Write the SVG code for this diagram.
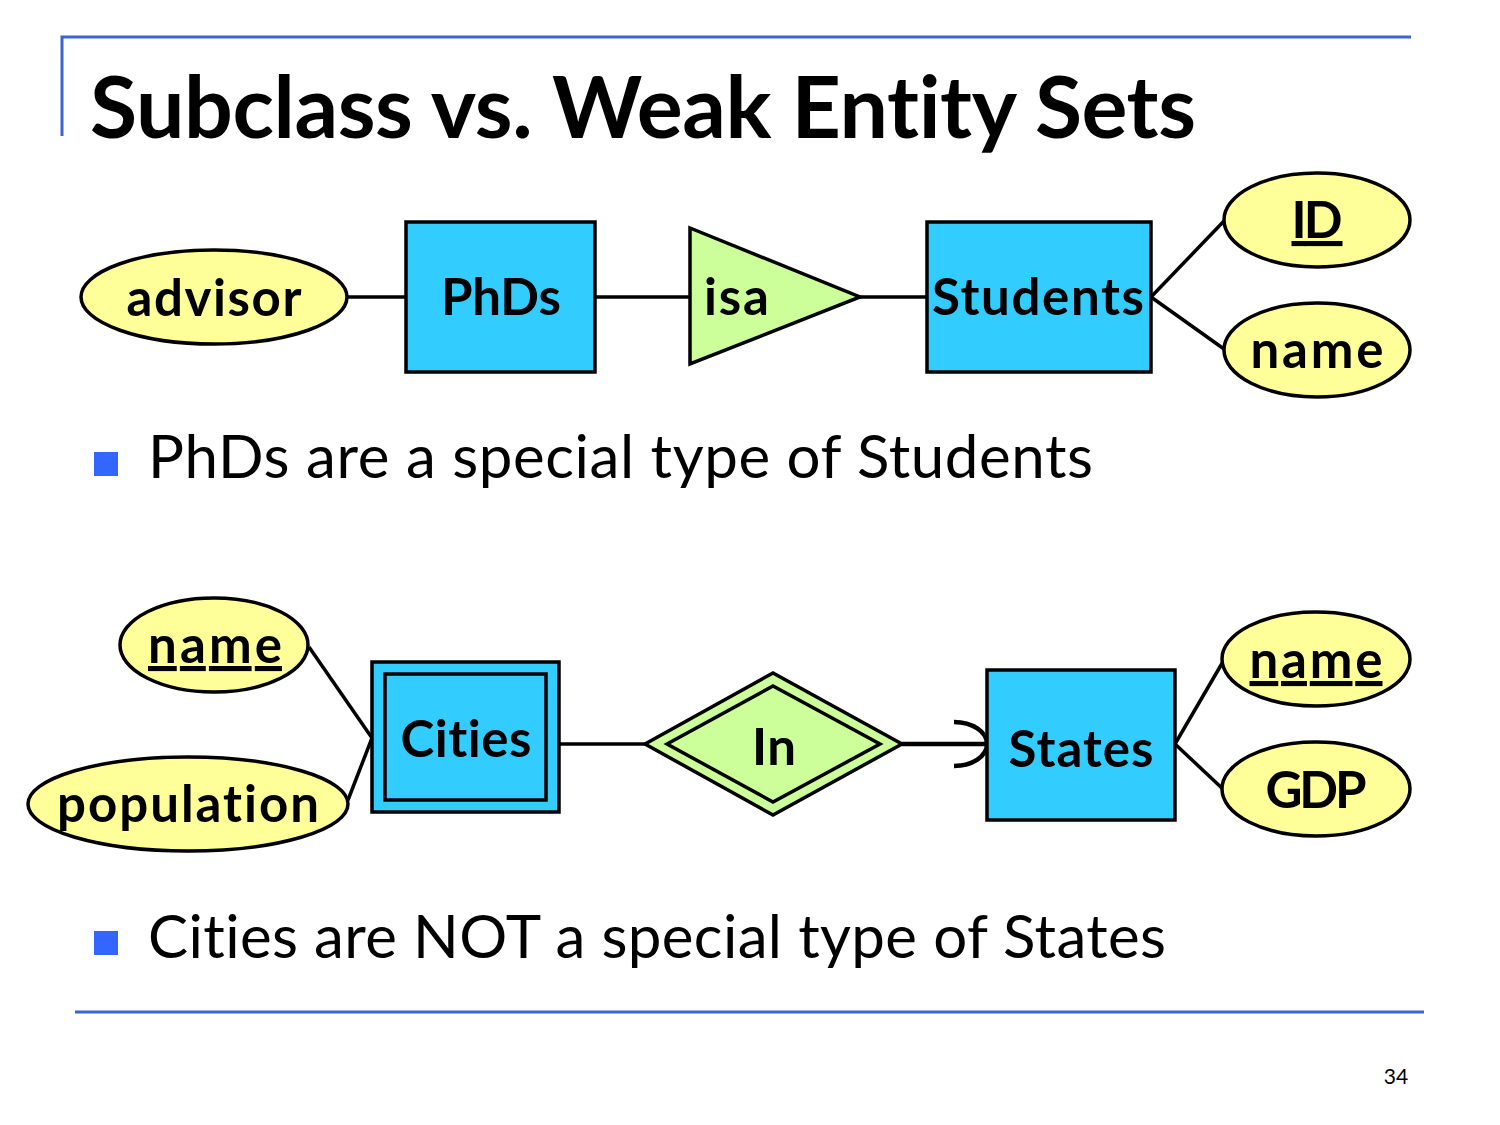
<svg xmlns="http://www.w3.org/2000/svg" width="1500" height="1125" viewBox="0 0 1500 1125">
<style>
text{font-variant-ligatures:none;font-feature-settings:"liga" 0}
.ent{fill:#33ccff;stroke:#000;stroke-width:3.5}
.att{fill:#ffff99;stroke:#000;stroke-width:3.5}
.rel{fill:#ccff99;stroke:#000;stroke-width:3.5}
.lbl{font-family:Lato,"Open Sans",sans-serif;font-weight:bold;font-size:51px;fill:#000}
.key{text-decoration:underline}
.conn line,.conn path{stroke:#000;stroke-width:3.5;fill:none}
.body{font-family:Lato,"Open Sans",sans-serif;font-size:60px;fill:#000}
.rule{stroke:#3c64d2;stroke-width:3;fill:none}
</style>
<rect width="1500" height="1125" fill="#fff"/>
<g id="frame">
<path class="rule" d="M62 136 V37 H1411"/>
<line class="rule" x1="75" y1="1012" x2="1424" y2="1012"/>
</g>
<text id="title" x="90" y="138" font-family="Lato,'Open Sans',sans-serif" font-weight="bold" font-size="86" textLength="1106">Subclass vs. Weak Entity Sets</text>
<g class="conn" id="connectors">
<line x1="347" y1="297" x2="406" y2="297"/>
<line x1="595" y1="297" x2="690" y2="297"/>
<line x1="860" y1="297" x2="927" y2="297"/>
<line x1="1151" y1="297" x2="1224" y2="221"/>
<line x1="1151" y1="297" x2="1224" y2="349"/>
<line x1="309" y1="647" x2="372" y2="738"/>
<line x1="348" y1="800" x2="372" y2="738"/>
<line x1="559" y1="744" x2="645" y2="744"/>
<line x1="902" y1="744" x2="987" y2="744" style="stroke-width:4.5"/>
<path d="M954 722 A33 22 0 0 1 954 766" style="stroke-width:4.5"/>
<line x1="1175" y1="744" x2="1224" y2="660"/>
<line x1="1175" y1="744" x2="1224" y2="790"/>
</g>
<g id="advisor"><ellipse class="att" cx="214" cy="297" rx="133" ry="47"/><text class="lbl" x="214" y="316" text-anchor="middle" textLength="175">advisor</text></g>
<g id="PhDs"><rect class="ent" x="406" y="222" width="189" height="150"/><text class="lbl" x="501" y="315" text-anchor="middle" textLength="120">PhDs</text></g>
<g id="isa"><polygon class="rel" points="690,228 690,364 860,297"/><text class="lbl" x="704" y="315" textLength="65">isa</text></g>
<g id="Students"><rect class="ent" x="927" y="222" width="224" height="150"/><text class="lbl" x="1038" y="315" text-anchor="middle" textLength="212">Students</text></g>
<g id="ID"><ellipse class="att" cx="1317" cy="220" rx="93" ry="47"/><text class="lbl key" x="1317" y="238" text-anchor="middle" textLength="51">ID</text></g>
<g id="name1"><ellipse class="att" cx="1317" cy="350" rx="93" ry="47"/><text class="lbl" x="1317" y="368" text-anchor="middle" textLength="133">name</text></g>
<g id="bullet1"><rect x="94" y="452" width="24" height="24" fill="#3366ff"/><text class="body" x="148" y="478" textLength="945">PhDs are a special type of Students</text></g>
<g id="name2"><ellipse class="att" cx="214" cy="645" rx="94" ry="47"/><text class="lbl key" x="215" y="663" text-anchor="middle" textLength="134">name</text></g>
<g id="population"><ellipse class="att" cx="188" cy="804" rx="160" ry="47"/><text class="lbl" x="188" y="822" text-anchor="middle" textLength="262">population</text></g>
<g id="Cities"><rect class="ent" x="372" y="662" width="187" height="150"/><rect class="ent" x="385" y="674" width="161" height="126"/><text class="lbl" x="466" y="757" text-anchor="middle" textLength="131">Cities</text></g>
<g id="In"><polygon class="rel" points="645,744 773,673 902,744 773,815"/><polygon class="rel" points="667,744 773,686 880,744 773,802"/><text class="lbl" x="774" y="765" text-anchor="middle" textLength="44">In</text></g>
<g id="States"><rect class="ent" x="987" y="670" width="188" height="150"/><text class="lbl" x="1081" y="767" text-anchor="middle" textLength="145">States</text></g>
<g id="name3"><ellipse class="att" cx="1316" cy="659" rx="94" ry="47"/><text class="lbl key" x="1316" y="678" text-anchor="middle" textLength="133">name</text></g>
<g id="GDP"><ellipse class="att" cx="1316" cy="789" rx="94" ry="47"/><text class="lbl" x="1316" y="808" text-anchor="middle" textLength="101">GDP</text></g>
<g id="bullet2"><rect x="94" y="931" width="24" height="24" fill="#3366ff"/><text class="body" x="148" y="958" textLength="1018">Cities are NOT a special type of States</text></g>
<text id="page" x="1396" y="1084" text-anchor="middle" font-family="Lato,'Open Sans',sans-serif" font-size="21">34</text>
</svg>
